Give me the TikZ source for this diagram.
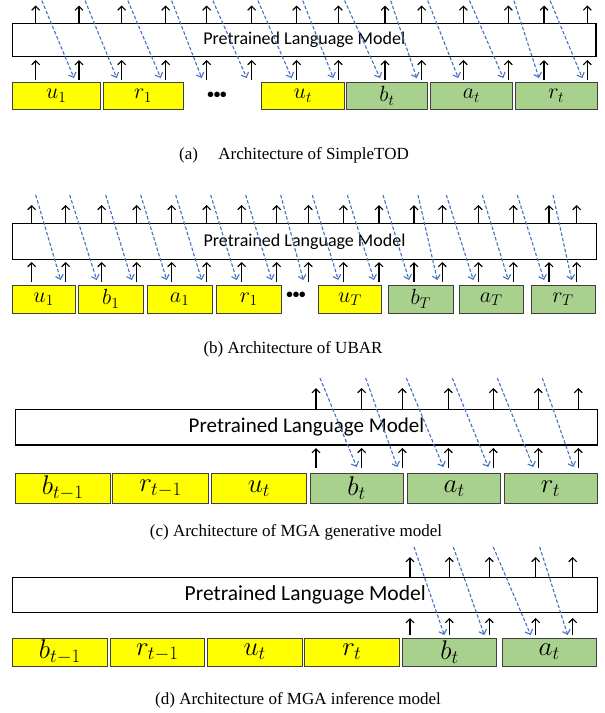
\RequirePackage{fix-cm}
\documentclass[tikz,border=0pt]{standalone}
\usepackage{fontspec}
\setmainfont{Liberation Serif}
\newfontfamily\lmfont{Carlito}
\usetikzlibrary{arrows.meta}
\definecolor{tokgreen}{HTML}{A9D18E}
\definecolor{tokyellow}{HTML}{FFFF00}
\definecolor{dblue}{HTML}{4472C4}
\definecolor{tokborder}{HTML}{404040}
\tikzset{
  lmbox/.style={draw=black, line width=1.4pt, fill=white, inner sep=0pt, outer sep=0pt, font=\lmfont},
  ytok/.style={draw=tokborder, line width=0.9pt, fill=tokyellow, inner sep=0pt, outer sep=0pt},
  gtok/.style={draw=tokborder, line width=0.9pt, fill=tokgreen, inner sep=0pt, outer sep=0pt},
  uparrow/.style={draw=black, line width=1.1pt, -{Straight Barb[length=4pt,width=8pt]}},
  bluedash/.style={draw=dblue, line width=1.1pt, dash pattern=on 3.5pt off 2pt, -{Straight Barb[length=4pt,width=8pt]}},
  captext/.style={font=\fontsize{17}{19}\selectfont, inner sep=0pt},
  dotstext/.style={font=\lmfont\bfseries\fontsize{13}{13}\selectfont, inner sep=0pt}
}
% #1 name, #2 style, #3 x1, #4 x2, #5 y1, #6 y2, #7 label
\newcommand{\tokbox}[7]{%
  \pgfmathsetmacro\tokw{#4-#3}\pgfmathsetmacro\tokh{#6-#5}%
  \node[#2, minimum width=\tokw pt, minimum height=\tokh pt] (#1) at ({(#3+#4)/2},{(#5+#6)/2}) {#7};}
% #1 name, #2 xlist, #3 top tip, #4 lm top, #5 bottom base, #6 bottom tip, #7 dash start, #8 dash end
\newcommand{\arrowset}[8]{%
  \foreach \x [count=\i] in {#2} {
    \coordinate (#1-tt\i) at (\x,#3);
    \coordinate (#1-tb\i) at (\x,#4);
    \coordinate (#1-bb\i) at (\x,#5);
    \coordinate (#1-bt\i) at (\x,#6);
    \draw[uparrow] (#1-tb\i) -- (#1-tt\i);
    \draw[uparrow] (#1-bb\i) -- (#1-bt\i);
  }
  \foreach \x [count=\i, remember=\x as \prevx (initially 0)] in {#2} {
    \ifnum\i>1
      \coordinate (#1-ds\i) at (\prevx+4,#7);
      \coordinate (#1-de\i) at (\x-5,#8);
      \draw[bluedash] (#1-ds\i) -- (#1-de\i);
    \fi
  }
}
\begin{document}
\begin{tikzpicture}[x=1pt,y=-1pt]
\useasboundingbox (0,0) rectangle (605,713);
\fill[white] (0,0) rectangle (605,713);

% ---------------- (a) ----------------
\tokbox{alm}{lmbox}{12.5}{596}{23.5}{56.5}{\fontsize{18}{18}\selectfont Pretrained Language Model}
\begin{scope}[every node/.append style={font=\fontsize{22}{22}\selectfont}]
\tokbox{au1}{ytok}{12.5}{100}{82.5}{109}{$u_1$}
\tokbox{ar1}{ytok}{103}{183}{82.5}{109}{$r_1$}
\tokbox{aut}{ytok}{261.7}{344}{82.5}{109}{$u_t$}
\tokbox{abt}{gtok}{346.7}{427.3}{82.5}{109}{$b_t$}
\tokbox{aat}{gtok}{430.7}{512.3}{82.5}{109}{$a_t$}
\tokbox{art}{gtok}{515}{597.3}{82.5}{109}{$r_t$}
\end{scope}
\node[dotstext] (adots) at (217,95) {•••};
\arrowset{a}{35.7,79,121.7,165.7,206.7,251.7,296.7,338.3,385,421.7,463.3,508.3,544,587.3}{5.5}{23.5}{80}{60}{-4.5}{78}
\node[captext] (acap) at (294,155) {(a)\hspace{1.2em}Architecture of SimpleTOD};

% ---------------- (b) ----------------
\tokbox{blm}{lmbox}{12.3}{596.7}{223.3}{259.3}{\fontsize{18}{18}\selectfont Pretrained Language Model}
\begin{scope}[every node/.append style={font=\fontsize{22}{22}\selectfont}]
\tokbox{bu1}{ytok}{12.3}{75}{285}{313}{$u_1$}
\tokbox{bb1}{ytok}{78.3}{143.3}{285}{313}{$b_1$}
\tokbox{ba1}{ytok}{147}{212.3}{285}{313}{$a_1$}
\tokbox{br1}{ytok}{216.7}{281}{285}{313}{$r_1$}
\tokbox{buT}{ytok}{318.3}{381.7}{285}{313}{$u_T$}
\tokbox{bbT}{gtok}{388.3}{453.3}{285}{313}{$b_T$}
\tokbox{baT}{gtok}{459.3}{523.3}{285}{313}{$a_T$}
\tokbox{brT}{gtok}{531}{595}{285}{313}{$r_T$}
\end{scope}
\node[dotstext] (bdots) at (296,295) {•••};
\arrowset{b}{31.7,65.7,101.7,136.7,171.7,206.7,241.7,276.7,308.3,343.3,379,414,442.3,478.3,513.3,549,576.7}{205}{223.3}{281.7}{262}{195}{280}
\node[captext] (bcap) at (293,349) {(b) Architecture of UBAR};

% ---------------- (c) ----------------
\tokbox{clm}{lmbox}{15.4}{597.5}{409.3}{445}{\fontsize{21}{21}\selectfont Pretrained Language Model}
\begin{scope}[every node/.append style={font=\fontsize{27}{27}\selectfont}]
\tokbox{cbp}{ytok}{15.4}{110}{473.7}{503}{$b_{t-1}$}
\tokbox{crp}{ytok}{112.7}{208.4}{473.7}{503}{$r_{t-1}$}
\tokbox{cut}{ytok}{211.4}{306.7}{473.7}{503}{$u_t$}
\tokbox{cbt}{gtok}{310}{403.3}{473.7}{503}{$b_t$}
\tokbox{cat}{gtok}{407.7}{500.7}{473.7}{503}{$a_t$}
\tokbox{crt}{gtok}{504}{597}{473.7}{503}{$r_t$}
\end{scope}
\arrowset{c}{316,361.7,402.3,448.3,493.3,538.3,578.3}{388}{409.3}{468}{448}{378}{467}
\node[captext] (ccap) at (296,532) {(c) Architecture of MGA generative model};

% ---------------- (d) ----------------
\tokbox{dlm}{lmbox}{12.7}{597.7}{577.7}{612.7}{\fontsize{21.5}{21.5}\selectfont Pretrained Language Model}
\begin{scope}[every node/.append style={font=\fontsize{27}{27}\selectfont}]
\tokbox{dbp}{ytok}{12.7}{107}{638.3}{666}{$b_{t-1}$}
\tokbox{drp}{ytok}{110}{204.6}{638.3}{666}{$r_{t-1}$}
\tokbox{dut}{ytok}{207}{302.3}{638.3}{666}{$u_t$}
\tokbox{drt}{ytok}{304.3}{399.3}{638.3}{666}{$r_t$}
\tokbox{dbt}{gtok}{402.7}{496.7}{638.3}{666}{$b_t$}
\tokbox{dat}{gtok}{502.3}{596}{638.3}{666}{$a_t$}
\end{scope}
\arrowset{d}{410,449.3,489.3,535.7,572.7}{557}{577.7}{635}{618}{547}{635}
\node[captext] (dcap) at (298,700) {(d) Architecture of MGA inference model};
\end{tikzpicture}
\end{document}
